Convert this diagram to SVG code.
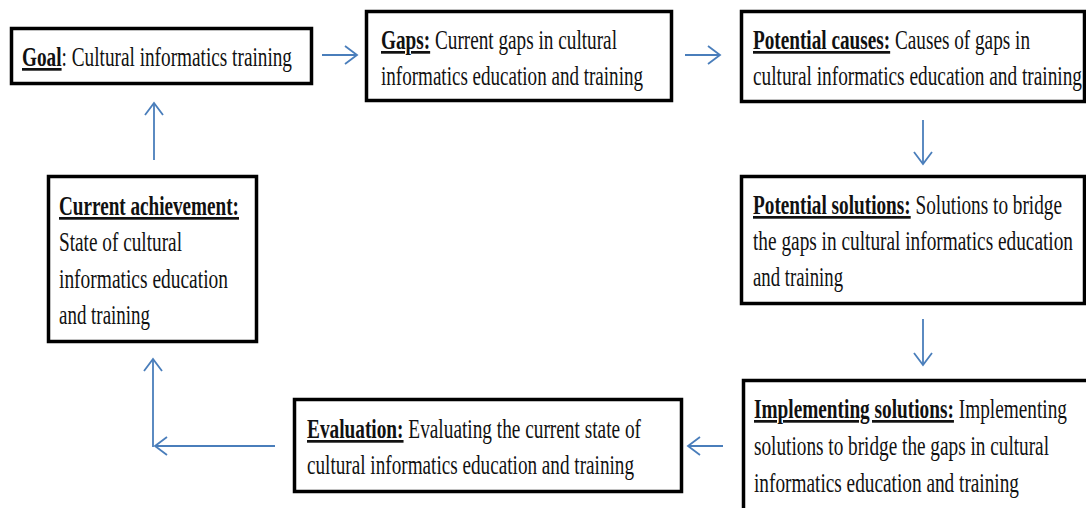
<svg xmlns="http://www.w3.org/2000/svg" width="1086" height="508" viewBox="0 0 1086 508">
<style>
.box{fill:#fff;stroke:#000;stroke-width:3.5}
.t{font-family:"Liberation Serif","Times New Roman",serif;font-size:27px;fill:#111}
.b{font-weight:bold;text-decoration:underline}
.c{fill:none;stroke:#4a7ebb;stroke-width:1.8;marker-end:url(#ah)}
</style>
<defs>
<marker id="ah" markerUnits="userSpaceOnUse" markerWidth="16" markerHeight="22" viewBox="-14 -11 16 22" refX="0" refY="0" orient="auto">
<path d="M-12,-9 L0,0 L-12,9" fill="none" stroke="#4a7ebb" stroke-width="1.8"/>
</marker>
</defs>
<rect width="1086" height="508" fill="#fff"/>
<g id="connectors">
<path class="c" d="M322,55 L357,55"/>
<path class="c" d="M685,55 L720,55"/>
<path class="c" d="M923,120 L923,164"/>
<path class="c" d="M923,319 L923,365"/>
<path class="c" d="M723,446 L688,446"/>
<path class="c" d="M275,446 L155,446"/>
<path class="c" d="M153,447 L153,359"/>
<path class="c" d="M154,160 L154,103"/>
</g>
<g id="goal">
<rect class="box" x="11.5" y="28.5" width="300" height="55"/>
<text class="t" x="22" y="66" textLength="270" lengthAdjust="spacingAndGlyphs"><tspan class="b">Goal</tspan>: Cultural informatics training</text>
</g>
<g id="gaps">
<rect class="box" x="366.5" y="11.5" width="305" height="89"/>
<text class="t" x="381" y="49" textLength="236" lengthAdjust="spacingAndGlyphs"><tspan class="b">Gaps:</tspan> Current gaps in cultural</text>
<text class="t" x="381" y="85" textLength="262" lengthAdjust="spacingAndGlyphs">informatics education and training</text>
</g>
<g id="causes">
<rect class="box" x="741.5" y="11.5" width="343" height="90"/>
<text class="t" x="753" y="49" textLength="277" lengthAdjust="spacingAndGlyphs"><tspan class="b">Potential causes:</tspan> Causes of gaps in</text>
<text class="t" x="753" y="85" textLength="329" lengthAdjust="spacingAndGlyphs">cultural informatics education and training</text>
</g>
<g id="solutions">
<rect class="box" x="741.5" y="176.5" width="343" height="127"/>
<text class="t" x="753" y="214" textLength="309" lengthAdjust="spacingAndGlyphs"><tspan class="b">Potential solutions:</tspan> Solutions to bridge</text>
<text class="t" x="753" y="250" textLength="320" lengthAdjust="spacingAndGlyphs">the gaps in cultural informatics education</text>
<text class="t" x="753" y="286" textLength="90" lengthAdjust="spacingAndGlyphs">and training</text>
</g>
<g id="implementing">
<rect class="box" x="743.5" y="380.5" width="345" height="140"/>
<text class="t" x="754" y="418" textLength="313" lengthAdjust="spacingAndGlyphs"><tspan class="b">Implementing solutions:</tspan> Implementing</text>
<text class="t" x="754" y="455" textLength="295" lengthAdjust="spacingAndGlyphs">solutions to bridge the gaps in cultural</text>
<text class="t" x="754" y="492" textLength="265" lengthAdjust="spacingAndGlyphs">informatics education and training</text>
</g>
<g id="evaluation">
<rect class="box" x="294.5" y="399.5" width="387" height="92"/>
<text class="t" x="307" y="438" textLength="334" lengthAdjust="spacingAndGlyphs"><tspan class="b">Evaluation:</tspan> Evaluating the current state of</text>
<text class="t" x="307" y="474" textLength="327" lengthAdjust="spacingAndGlyphs">cultural informatics education and training</text>
</g>
<g id="current">
<rect class="box" x="48.5" y="176.5" width="208" height="165"/>
<text class="t" x="59" y="215" textLength="180" lengthAdjust="spacingAndGlyphs"><tspan class="b">Current achievement:</tspan></text>
<text class="t" x="59" y="251" textLength="123" lengthAdjust="spacingAndGlyphs">State of cultural</text>
<text class="t" x="59" y="288" textLength="169" lengthAdjust="spacingAndGlyphs">informatics education</text>
<text class="t" x="59" y="324" textLength="91" lengthAdjust="spacingAndGlyphs">and training</text>
</g>
</svg>
